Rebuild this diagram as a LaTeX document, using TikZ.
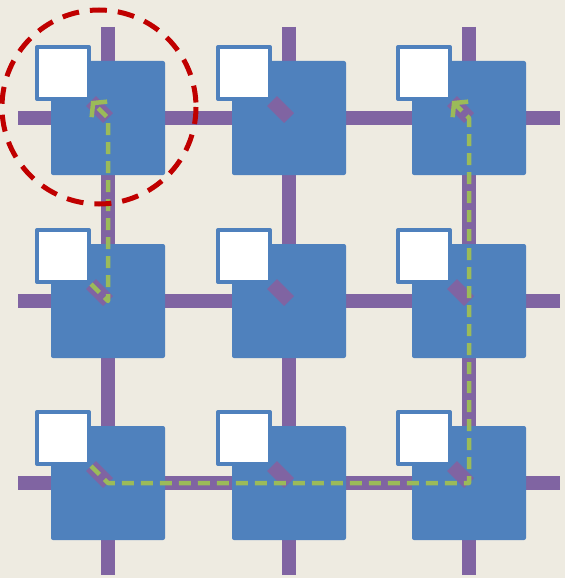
\documentclass[tikz,border=0pt]{standalone}
\usetikzlibrary{arrows.meta}

\definecolor{paper}{HTML}{EEEBE1}
\definecolor{tileblue}{HTML}{4F81BD}
\definecolor{linkpurple}{HTML}{8064A2}
\definecolor{routegreen}{HTML}{9BBB59}
\definecolor{ringred}{HTML}{C00000}

\pgfdeclarelayer{links}
\pgfdeclarelayer{tiles}
\pgfsetlayers{links,tiles,main}

\begin{document}
\begin{tikzpicture}[x=1pt, y=-1pt, line join=round,
    link/.style={line width=14pt, color=linkpurple},
    tile/.style={fill=tileblue, rounded corners=2pt, minimum size=114pt, inner sep=0pt},
    core/.style={draw=tileblue, line width=4pt, fill=white, minimum size=52pt, inner sep=0pt},
    route/.style={line width=4.5pt, color=routegreen, dash pattern=on 12pt off 7pt,
        -{Straight Barb[length=9pt, width=22pt]}},
    ring/.style={line width=5pt, color=ringred, dash pattern=on 17pt off 11pt}]

    \useasboundingbox (0,0) rectangle (565,578);

    % routers
    \coordinate (r11) at (108,118);
    \coordinate (r12) at (289,118);
    \coordinate (r13) at (469,118);
    \coordinate (r21) at (108,301);
    \coordinate (r22) at (289,301);
    \coordinate (r23) at (469,301);
    \coordinate (r31) at (108,483);
    \coordinate (r32) at (289,483);
    \coordinate (r33) at (469,483);

    % open ends of the mesh
    \coordinate (w1) at (18,118);
    \coordinate (w2) at (18,301);
    \coordinate (w3) at (18,483);
    \coordinate (e1) at (560,118);
    \coordinate (e2) at (560,301);
    \coordinate (e3) at (560,483);
    \coordinate (n1) at (108,27);
    \coordinate (n2) at (289,27);
    \coordinate (n3) at (469,27);
    \coordinate (s1) at (108,575);
    \coordinate (s2) at (289,575);
    \coordinate (s3) at (469,575);

    % cores
    \node[core] (c11) at (63,73) {};
    \node[core] (c12) at (244,73) {};
    \node[core] (c13) at (424,73) {};
    \node[core] (c21) at (63,256) {};
    \node[core] (c22) at (244,256) {};
    \node[core] (c23) at (424,256) {};
    \node[core] (c31) at (63,438) {};
    \node[core] (c32) at (244,438) {};
    \node[core] (c33) at (424,438) {};

    \begin{pgfonlayer}{tiles}
        \node[tile] (t11) at (r11) {};
        \node[tile] (t12) at (r12) {};
        \node[tile] (t13) at (r13) {};
        \node[tile] (t21) at (r21) {};
        \node[tile] (t22) at (r22) {};
        \node[tile] (t23) at (r23) {};
        \node[tile] (t31) at (r31) {};
        \node[tile] (t32) at (r32) {};
        \node[tile] (t33) at (r33) {};

        \draw[link] (r11) -- (c11.south east);
        \draw[link] (r12) -- (c12.south east);
        \draw[link] (r13) -- (c13.south east);
        \draw[link] (r21) -- (c21.south east);
        \draw[link] (r22) -- (c22.south east);
        \draw[link] (r23) -- (c23.south east);
        \draw[link] (r31) -- (c31.south east);
        \draw[link] (r32) -- (c32.south east);
        \draw[link] (r33) -- (c33.south east);
    \end{pgfonlayer}

    \begin{pgfonlayer}{links}
        \fill[paper] (0,0) rectangle (565,578);

        \draw[link] (w1) -- (r11) -- (r12) -- (r13) -- (e1);
        \draw[link] (w2) -- (r21) -- (r22) -- (r23) -- (e2);
        \draw[link] (w3) -- (r31) -- (r32) -- (r33) -- (e3);
        \draw[link] (n1) -- (r11) -- (r21) -- (r31) -- (s1);
        \draw[link] (n2) -- (r12) -- (r22) -- (r32) -- (s2);
        \draw[link] (n3) -- (r13) -- (r23) -- (r33) -- (s3);
    \end{pgfonlayer}

    % two routes through the mesh
    \draw[route] (c21.south east) -- (r21) -- (r11) -- (c11.south east);
    \draw[route] (c31.south east) -- (r31) -- (r33) -- (r13) -- (c13.south east);

    \draw[ring] (99,107) circle[radius=97];

\end{tikzpicture}
\end{document}
